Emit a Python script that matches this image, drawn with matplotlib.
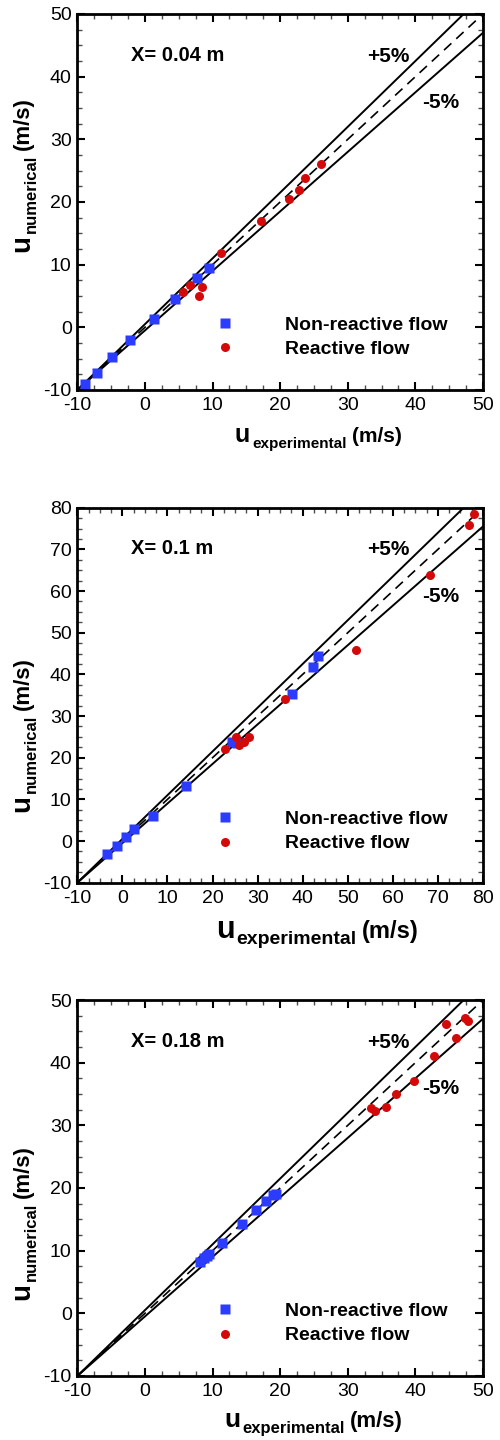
import numpy as np
import matplotlib.pyplot as plt
from matplotlib.ticker import MultipleLocator

plt.rcParams['font.family'] = ['Liberation Sans', 'DejaVu Sans']
plt.rcParams['axes.unicode_minus'] = False

# values (u_experimental, u_numerical)
nr1_x = [-8.9, -7.1, -4.8, -2.2, 1.3, 4.4, 7.7, 9.5]
nr1_y = [-9.0, -7.3, -4.8, -2.0, 1.4, 4.5, 7.8, 9.4]
r1_x = [5.7, 6.7, 8.0, 8.5, 11.3, 17.1, 21.3, 22.8, 23.7, 26.1]
r1_y = [5.7, 6.8, 5.0, 6.5, 11.9, 17.0, 20.4, 21.9, 23.8, 26.0]

nr2_x = [-3.4, -1.1, 0.9, 2.6, 6.9, 14.2, 24.3, 25.4, 37.7, 42.2, 43.3]
nr2_y = [-3.1, -1.1, 0.9, 2.9, 6.0, 13.3, 23.8, 23.6, 35.4, 41.8, 44.3]
r2_x = [22.7, 25.2, 25.8, 26.9, 28.1, 36.1, 51.8, 68.3, 76.8, 77.9]
r2_y = [22.0, 25.0, 23.0, 23.8, 24.9, 34.0, 45.9, 63.9, 75.9, 78.5]

nr3_x = [8.2, 8.7, 9.2, 9.5, 11.4, 14.3, 16.4, 17.9, 18.9, 19.4]
nr3_y = [8.2, 8.8, 9.2, 9.5, 11.3, 14.2, 16.5, 17.9, 18.9, 19.1]
r3_x = [33.4, 34.0, 35.7, 37.1, 39.8, 42.7, 46.0, 44.5, 47.4, 47.8]
r3_y = [32.8, 32.3, 33.0, 35.0, 37.1, 41.0, 44.0, 46.1, 47.1, 46.7]

titles = ['X= 0.04 m', 'X= 0.1 m', 'X= 0.18 m']
limits = [(-10, 50), (-10, 80), (-10, 50)]

BLUE = '#2b3cff'
RED = '#d40a0a'
W, H = 500, 1440

fig = plt.figure(figsize=(W / 100, H / 100), dpi=100)

# axes boxes in pixels: top, bottom
boxes = [(14, 390), (507.7, 882.7), (1000, 1376)]
left, right = 77.3, 483

data = [(nr1_x, nr1_y, r1_x, r1_y), (nr2_x, nr2_y, r2_x, r2_y), (nr3_x, nr3_y, r3_x, r3_y)]
leg_y = [0.141, 0.137, 0.14]

axes = []
for i in range(3):
    top, bot = boxes[i]
    ax = fig.add_axes([left / W, 1 - bot / H, (right - left) / W, (bot - top) / H])
    lo, hi = limits[i]
    nx, ny, rx, ry = data[i]

    # +/-5% band and the y = x line
    xx = np.array([lo, hi], dtype=float)
    ax.plot(xx, xx + 0.05 * (xx - lo), color='k', lw=1.4)
    ax.plot(xx, xx - 0.05 * (xx - lo), color='k', lw=1.4)
    ax.plot(xx, xx, color='k', lw=1.2, dashes=(6, 4))

    ax.plot(nx, ny, 's', color=BLUE, ms=7, mec='none', label='Non-reactive flow')
    ax.plot(rx, ry, 'o', color=RED, ms=6.5, mec='none', label='Reactive flow')

    ax.set_xlim(lo, hi)
    ax.set_ylim(lo, hi)
    ax.xaxis.set_major_locator(MultipleLocator(10))
    ax.yaxis.set_major_locator(MultipleLocator(10))
    ax.xaxis.set_minor_locator(MultipleLocator(2.5))
    ax.yaxis.set_minor_locator(MultipleLocator(2.5))
    ax.tick_params(which='both', direction='in', top=True, right=True)
    ax.tick_params(which='major', length=6, width=1.5, labelsize=14, pad=5)
    ax.tick_params(axis='y', which='major', pad=4)
    ax.tick_params(which='minor', length=3.5, width=1, color='0.3')
    for s in ax.spines.values():
        s.set_linewidth(2)

    ax.text(0.133, 0.89, titles[i], transform=ax.transAxes, fontsize=14.5,
            fontweight='bold', va='center')
    ax.text(0.714, 0.888, '+5%', transform=ax.transAxes, fontsize=15,
            fontweight='bold', va='center')
    ax.text(0.85, 0.764, '-5%', transform=ax.transAxes, fontsize=15,
            fontweight='bold', va='center')

    ax.legend(loc='center left', bbox_to_anchor=(0.34, leg_y[i]), frameon=False,
              borderpad=0, borderaxespad=0, handlelength=1, handletextpad=2.6,
              labelspacing=0.35, prop={'weight': 'bold', 'size': 14})
    axes.append(ax)

renderer = fig.canvas.get_renderer()


def label_h(x, y, parts):
    # parts: (text, size, baseline drop, gap after) in pixels, drawn left to right
    for txt, size, drop, gap in parts:
        t = fig.text(x / W, 1 - (y + drop) / H, txt, fontsize=size, fontweight='bold',
                     ha='left', va='baseline')
        x += t.get_window_extent(renderer).width + gap


def label_v(x, y, parts):
    # same but rotated, running upwards from (x, y)
    for txt, size, drop, gap in parts:
        t = fig.text((x + drop) / W, 1 - y / H, txt, fontsize=size, fontweight='bold',
                     ha='left', va='baseline', rotation=90, rotation_mode='anchor')
        y -= t.get_window_extent(renderer).height + gap


xl = [(235, 442, 18, 11, 15), (216, 938, 22, 14, 17), (224, 1427, 19, 12, 16)]
for x, y, s1, s2, s3 in xl:
    label_h(x, y, [('u', s1, 0, 2), ('experimental', s2, 6, 5), ('(m/s)', s3, 0, 0)])

yl = [(29, 252), (29, 812), (29, 1300)]
for x, y in yl:
    label_v(x, y, [('u', 20, 0, 2), ('numerical', 12, 7, 5), ('(m/s)', 16, 0, 0)])

fig.savefig('out.png', dpi=100)
